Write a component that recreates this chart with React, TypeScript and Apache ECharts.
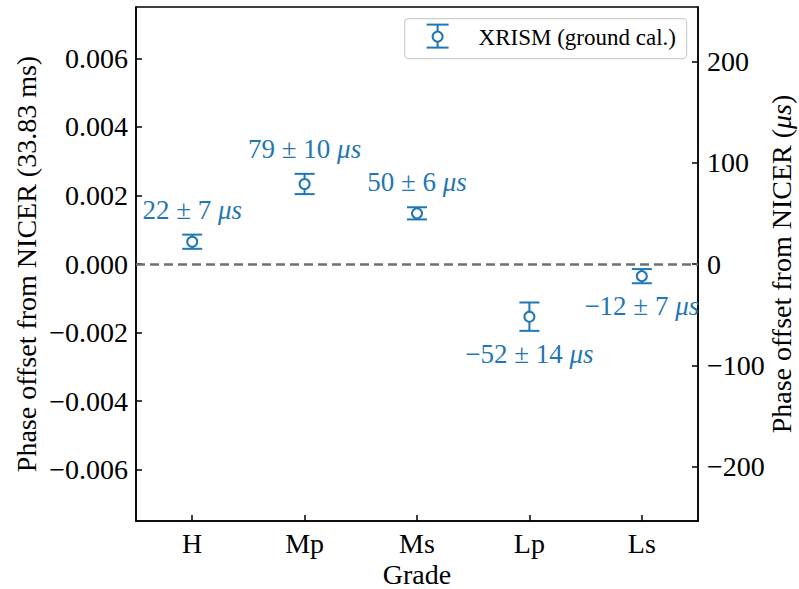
import React, { useEffect, useRef } from "react";
import * as echarts from "echarts";

const CATEGORIES = ["H", "Mp", "Ms", "Lp", "Ls"];
const OFFSET_US = [22, 79, 50, -52, -12];
const ERROR_US = [7, 10, 6, 14, 7];
const PERIOD_US = 33830;
const LEFT_TICKS = [-0.006, -0.004, -0.002, 0, 0.002, 0.004, 0.006];
const RIGHT_TICKS = [-200, -100, 0, 100, 200];
const LEFT_LIMIT = 0.0075;
const LEGEND_LABEL = "XRISM (ground cal.)";

const COLOR = "#1f77b4";
const FONT = "Liberation Serif, Times New Roman, serif";
const MINUS = "\u2212";

const fmtSigned = (v: number, digits: number) =>
  (v < 0 ? MINUS : "") + Math.abs(v).toFixed(digits);

export default function App() {
  const ref = useRef<HTMLDivElement>(null);

  useEffect(() => {
    if (!ref.current) return;
    const chart = echarts.init(ref.current, undefined, { renderer: "svg" });

    const data = CATEGORIES.map((_, i) => [
      i,
      OFFSET_US[i] / PERIOD_US,
      ERROR_US[i] / PERIOD_US,
    ]);

    const option: any = {
      animation: false,
      backgroundColor: "#fff",
      textStyle: { fontFamily: FONT },
      grid: {
        left: 136,
        right: 101,
        top: 7,
        bottom: 68,
        containLabel: false,
        outerBoundsMode: "none",
        show: true,
        borderColor: "#000",
        borderWidth: 1.5,
        backgroundColor: "transparent",
      },
      xAxis: {
        type: "category",
        data: CATEGORIES,
        boundaryGap: true,
        name: "Grade",
        nameLocation: "middle",
        nameGap: 39,
        nameMoveOverlap: false,
        nameTextStyle: { fontFamily: FONT, fontSize: 28, color: "#000" },
        axisLine: { show: true, onZero: false, lineStyle: { color: "#000", width: 1.5 } },
        axisTick: { show: true, inside: true, length: 6, alignWithLabel: true, lineStyle: { color: "#000", width: 1.5 } },
        axisLabel: { fontFamily: FONT, fontSize: 28, color: "#000", margin: 8 },
        splitLine: { show: false },
      },
      yAxis: [
        {
          type: "value",
          min: -LEFT_LIMIT,
          max: LEFT_LIMIT,
          position: "left",
          name: "Phase offset from NICER (33.83 ms)",
          nameLocation: "middle",
          nameRotate: 90,
          nameGap: 96,
          nameMoveOverlap: false,
          nameTextStyle: { fontFamily: FONT, fontSize: 28, color: "#000" },
          axisLine: { show: true, onZero: false, lineStyle: { color: "#000", width: 1.5 } },
          axisTick: { show: true, inside: true, length: 6, customValues: LEFT_TICKS, lineStyle: { color: "#000", width: 1.5 } },
          axisLabel: {
            fontFamily: FONT,
            fontSize: 28,
            color: "#000",
            margin: 8,
            customValues: LEFT_TICKS,
            formatter: (v: number) => fmtSigned(v, 3),
          },
          splitLine: { show: false },
        },
        {
          type: "value",
          min: -LEFT_LIMIT * PERIOD_US,
          max: LEFT_LIMIT * PERIOD_US,
          position: "right",
          name: "{a|Phase offset from NICER (}{b|\u03bcs}{a|)}",
          nameLocation: "middle",
          nameRotate: 90,
          nameGap: 69,
          nameMoveOverlap: false,
          nameTextStyle: {
            fontFamily: FONT,
            fontSize: 28,
            color: "#000",
            rich: {
              a: { fontFamily: FONT, fontSize: 28, color: "#000" },
              b: { fontFamily: FONT, fontSize: 28, color: "#000", fontStyle: "italic" },
            },
          },
          axisLine: { show: true, onZero: false, lineStyle: { color: "#000", width: 1.5 } },
          axisTick: { show: true, inside: true, length: 6, customValues: RIGHT_TICKS, lineStyle: { color: "#000", width: 1.5 } },
          axisLabel: {
            fontFamily: FONT,
            fontSize: 28,
            color: "#000",
            margin: 9,
            customValues: RIGHT_TICKS,
            formatter: (v: number) => fmtSigned(v, 0),
          },
          splitLine: { show: false },
        },
      ],
      series: [
        {
          type: "custom",
          name: LEGEND_LABEL,
          xAxisIndex: 0,
          yAxisIndex: 0,
          data,
          z: 5,
          markLine: {
            silent: true,
            symbol: "none",
            label: { show: false },
            lineStyle: { color: "#707070", width: 2.5, type: [9, 5] },
            data: [{ yAxis: 0 }],
          },
          renderItem: (params: any, api: any) => {
            const i = api.value(0);
            const v = api.value(1);
            const e = api.value(2);
            const c = api.coord([i, v]);
            const t = api.coord([i, v + e]);
            const b = api.coord([i, v - e]);
            const us = OFFSET_US[params.dataIndex];
            const err = ERROR_US[params.dataIndex];
            const cap = 10;
            const lineStyle = { stroke: COLOR, lineWidth: 2 };
            const text = `{n|${fmtSigned(us, 0)} \u00b1 ${err} }{u|\u03bcs}`;
            return {
              type: "group",
              children: [
                { type: "line", shape: { x1: c[0], y1: t[1], x2: c[0], y2: b[1] }, style: lineStyle },
                { type: "line", shape: { x1: c[0] - cap, y1: t[1], x2: c[0] + cap, y2: t[1] }, style: lineStyle },
                { type: "line", shape: { x1: c[0] - cap, y1: b[1], x2: c[0] + cap, y2: b[1] }, style: lineStyle },
                { type: "circle", shape: { cx: c[0], cy: c[1], r: 5 }, style: { fill: "#fff", stroke: COLOR, lineWidth: 2 } },
                {
                  type: "text",
                  x: c[0],
                  y: v >= 0 ? t[1] - 25 : b[1] + 23,
                  style: {
                    text,
                    align: "center",
                    verticalAlign: "middle",
                    fill: COLOR,
                    fontFamily: FONT,
                    fontSize: 27,
                    rich: {
                      n: { fill: COLOR, fontFamily: FONT, fontSize: 27 },
                      u: { fill: COLOR, fontFamily: FONT, fontSize: 27, fontStyle: "italic" },
                    },
                  },
                },
              ],
            };
          },
        },
      ],
      graphic: [
        {
          type: "group",
          left: 404,
          top: 18,
          children: [
            {
              type: "rect",
              shape: { x: 0, y: 0, width: 282, height: 40, r: 4 },
              style: { fill: "rgba(255,255,255,0.85)", stroke: "#d0d0d0", lineWidth: 1.2 },
            },
            { type: "line", shape: { x1: 22, y1: 6, x2: 44, y2: 6 }, style: { stroke: COLOR, lineWidth: 2 } },
            { type: "line", shape: { x1: 22, y1: 29, x2: 44, y2: 29 }, style: { stroke: COLOR, lineWidth: 2 } },
            { type: "line", shape: { x1: 33, y1: 6, x2: 33, y2: 29 }, style: { stroke: COLOR, lineWidth: 2 } },
            { type: "circle", shape: { cx: 33, cy: 18, r: 5 }, style: { fill: "#fff", stroke: COLOR, lineWidth: 2 } },
            {
              type: "text",
              x: 74,
              y: 19,
              style: {
                text: LEGEND_LABEL,
                fill: "#000",
                fontFamily: FONT,
                fontSize: 23,
                verticalAlign: "middle",
                align: "left",
              },
            },
          ],
        },
      ],
    };

    chart.setOption(option);
    return () => chart.dispose();
  }, []);

  return (
    <div
      ref={ref}
      style={{ position: "fixed", left: 0, top: 0, width: 799, height: 589, background: "#fff" }}
    />
  );
}
